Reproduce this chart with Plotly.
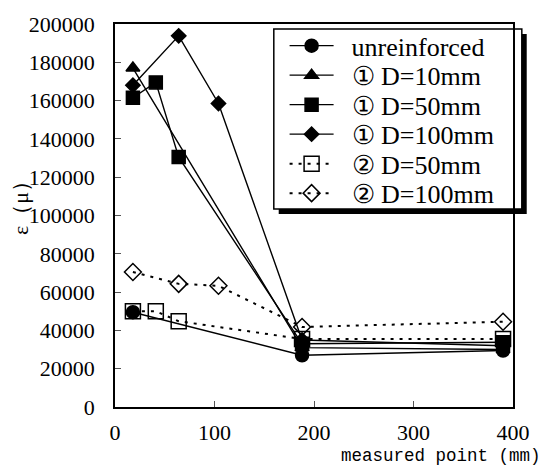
import plotly.graph_objects as go

# measured positions along the specimen (mm)
pos_a = [18, 188, 390]                 # unreinforced, ① D=10mm
pos_b = [18, 41, 64, 188, 390]         # ① D=50mm, ② D=50mm
pos_c = [18, 64, 104, 188, 390]        # ① D=100mm, ② D=100mm

# strain values ε (μ)
unreinforced = [49500, 27000, 29500]
r1_d10 = [177000, 31000, 30000]
r1_d50 = [161500, 169500, 130500, 33000, 33800]
r1_d100 = [168000, 193800, 158500, 35000, 32000]
r2_d50 = [50000, 50000, 44800, 35500, 35500]
r2_d100 = [70500, 64300, 63300, 41800, 44500]

names = ["unreinforced", "① D=10mm", "① D=50mm", "① D=100mm",
         "② D=50mm", "② D=100mm"]

SERIF = "Liberation Serif"
NBSP = "\u00a0"

# plot area in pixels (used to place annotations/legend box)
W, H = 542, 475
L, R, T, B = 115, 21, 20, 68
PW, PH = W - L - R, H - T - B


def px_x(px):
    return (px - L) / PW


def px_y(py):
    return (H - B - py) / PH


fig = go.Figure()

series = [
    (pos_a, unreinforced, "circle", 13, "solid"),
    (pos_a, r1_d10, "triangle-up", 12, "solid"),
    (pos_b, r1_d50, "square", 13, "solid"),
    (pos_c, r1_d100, "diamond", 11, "solid"),
    (pos_b, r2_d50, "square-open", 15, "3px,6px"),
    (pos_c, r2_d100, "diamond-open", 13, "3px,6px"),
]

# legend frame with drop shadow
bx0, by0, bx1, by1 = 277, 25, 530, 207
row0, row_gap = 42, 29.8

layout_legends = {}
for i, ((xs, ys, sym, sz, dash), nm) in enumerate(zip(series, names)):
    key = "legend" if i == 0 else f"legend{i + 1}"
    fig.add_trace(go.Scatter(
        x=xs, y=ys, name=NBSP * 2 + nm, mode="lines+markers", legend=key,
        line=dict(color="black", width=1.4 if dash == "solid" else 2,
                  dash=dash),
        marker=dict(symbol=sym, size=sz, color="black",
                    line=dict(color="black", width=1.5)),
    ))
    layout_legends[key] = dict(
        x=px_x(bx0 + 11), y=px_y(row0 + i * row_gap),
        xanchor="left", yanchor="middle",
        bgcolor="rgba(0,0,0,0)", borderwidth=0,
        font=dict(family=SERIF, size=26, color="black"),
        itemwidth=44,
    )

fig.add_shape(type="rect", xref="paper", yref="paper",
              x0=px_x(bx0 + 5), x1=px_x(bx1 + 5),
              y0=px_y(by0 + 5), y1=px_y(by1 + 5),
              fillcolor="black", line=dict(width=0), layer="below")
fig.add_shape(type="rect", xref="paper", yref="paper",
              x0=px_x(bx0), x1=px_x(bx1), y0=px_y(by0), y1=px_y(by1),
              fillcolor="white", line=dict(color="black", width=1.5),
              layer="below")

axis_common = dict(
    showgrid=False, zeroline=False, showline=True, linecolor="black",
    linewidth=1.5, mirror=True, ticks="inside", ticklen=6, tickwidth=1,
    tickcolor="#555", tickfont=dict(family=SERIF, size=22, color="black"),
)

fig.update_xaxes(range=[0, 400], dtick=100, ticklabelstandoff=5,
                 **axis_common)
fig.update_yaxes(range=[0, 200000], dtick=20000, tickformat="d",
                 ticklabelstandoff=14, **axis_common)

fig.add_annotation(text="ε（μ）", xref="paper", yref="paper",
                   x=px_x(18), y=px_y(200), textangle=-90, showarrow=False,
                   xanchor="center", yanchor="middle",
                   font=dict(family=SERIF, size=22, color="black"))
fig.add_annotation(text="measured point (mm)", xref="paper", yref="paper",
                   x=px_x(552), y=px_y(457), showarrow=False,
                   xanchor="right", yanchor="middle",
                   font=dict(family="Liberation Mono", size=17.5,
                             color="black"))

fig.update_layout(
    width=W, height=H,
    margin=dict(l=L, r=R, t=T, b=B),
    plot_bgcolor="white", paper_bgcolor="white",
    showlegend=True,
    **layout_legends,
)

fig.write_html("out.html")
